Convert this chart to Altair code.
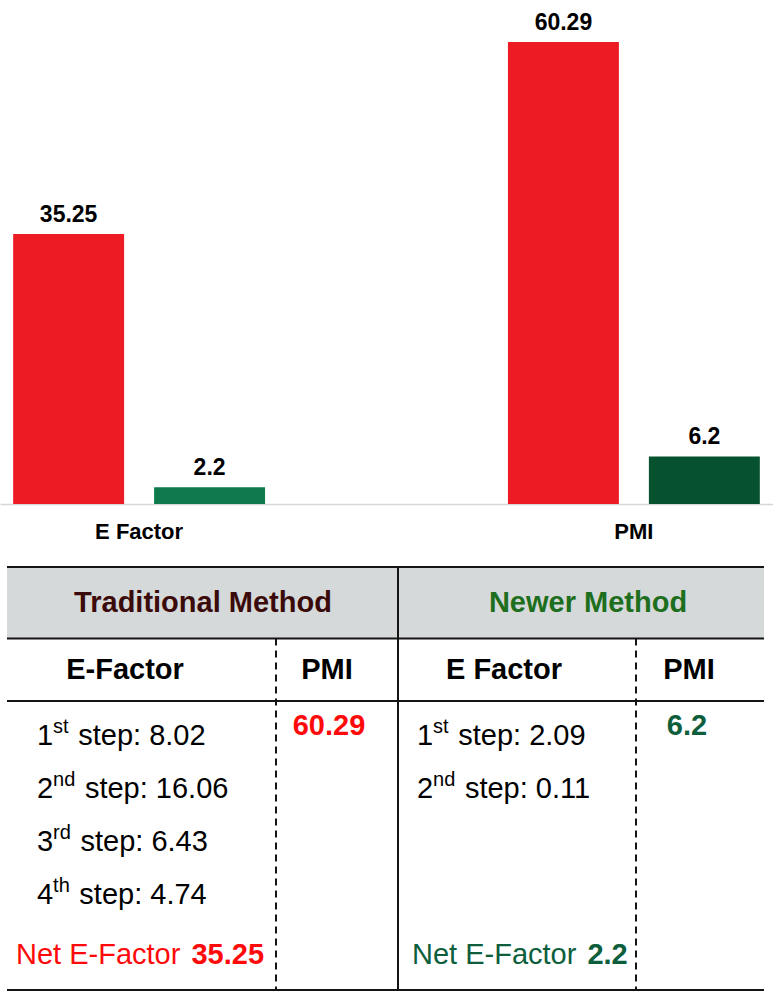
import altair as alt
import pandas as pd

FONT = "Liberation Sans"

# ---------------- data ----------------
categories = ["E Factor", "PMI"]
methods = ["Traditional Method", "Newer Method"]
traditional_values = [35.25, 60.29]   # E Factor, PMI
newer_values = [2.2, 6.2]             # E Factor, PMI

step_numbers = ["1", "2", "3", "4"]
step_suffixes = ["st", "nd", "rd", "th"]
traditional_steps = [8.02, 16.06, 6.43, 4.74]
newer_steps = [2.09, 0.11]

sub_headers_traditional = ["E-Factor", "PMI"]
sub_headers_newer = ["E Factor", "PMI"]
net_label = "Net E-Factor"

# ---------------- styles ----------------
RED_BAR = "#ed1c24"
GREEN_BAR_1 = "#0f7a4b"
GREEN_BAR_2 = "#06522f"
RED_TEXT = "#fe0a0a"
GREEN_TEXT = "#0d5e3c"
HEAD_TRAD = "#3b0b0b"
HEAD_NEW = "#1d6e1d"
HEADER_FILL = "#d5d9d9"
LINE = "#141414"

# Arial / Liberation Sans advance widths (em)
REG = {"0": .556, "1": .556, "2": .556, "3": .556, "4": .556, "5": .556, "6": .556,
       "7": .556, "8": .556, "9": .556, ".": .278, ":": .278, " ": .278, "s": .5,
       "t": .278, "e": .556, "p": .556, "N": .722, "E": .667, "-": .333, "F": .611,
       "a": .556, "c": .5, "o": .556, "r": .333, "n": .556, "d": .556, "h": .556}


def text_width(s, size):
    return sum(REG.get(ch, .556) for ch in s) * size


# ---------------- bar chart ----------------
bars_df = pd.DataFrame({
    "category": categories + categories,
    "method": [methods[0]] * len(categories) + [methods[1]] * len(categories),
    "value": traditional_values + newer_values,
})
bars_df["key"] = bars_df["method"] + " / " + bars_df["category"]
bars_df["label"] = bars_df["value"].map(lambda v: f"{v:g}")
key_domain = list(bars_df["key"])
key_range = [RED_BAR, RED_BAR, GREEN_BAR_1, GREEN_BAR_2]

base = alt.Chart(bars_df).encode(
    x=alt.X("category:N", sort=categories, title=None,
            scale=alt.Scale(paddingInner=0.4909, paddingOuter=0.0266),
            axis=alt.Axis(labelAngle=0, ticks=False, tickSize=0, labelPadding=17,
                          labelFont=FONT, labelFontSize=22, labelFontWeight="bold",
                          labelColor="black", domainColor="#d6d6d6", domainWidth=1.5,
                          grid=False)),
    xOffset=alt.XOffset("method:N", sort=methods,
                        scale=alt.Scale(paddingInner=0.2128, paddingOuter=0)),
    y=alt.Y("value:Q", scale=alt.Scale(domain=[0, 65.77], nice=False), axis=None),
)
bars = base.mark_bar().encode(
    color=alt.Color("key:N", scale=alt.Scale(domain=key_domain, range=key_range), legend=None)
)
bar_labels = base.mark_text(dy=-12, baseline="alphabetic", font=FONT, fontSize=23,
                            fontWeight="bold", color="black").encode(text="label:N")
top = alt.layer(bars, bar_labels).properties(width=773, height=504)

# ---------------- table ----------------
TX0, TX1 = 7, 764
Y_TOP, Y_HEAD, Y_SUB, Y_BOT = 567, 638.5, 701, 990
X_MID = 398
X_DASH = [276, 636]

XS = alt.Scale(domain=[0, 773], nice=False, zero=False)
YS = alt.Scale(domain=[565, 997], reverse=True, nice=False, zero=False)


def X(f="x"):
    return alt.X(f"{f}:Q", scale=XS, axis=None)


def Y(f="y"):
    return alt.Y(f"{f}:Q", scale=YS, axis=None)


rect_df = pd.DataFrame({"x": [TX0], "x2": [TX1], "y": [Y_TOP - 1], "y2": [Y_HEAD]})
header_rect = alt.Chart(rect_df).mark_rect(color=HEADER_FILL).encode(
    x=X(), x2="x2:Q", y=Y(), y2="y2:Q")

solid_df = pd.DataFrame({
    "x": [TX0, TX0, TX0, TX0, X_MID],
    "x2": [TX1, TX1, TX1, TX1, X_MID],
    "y": [Y_TOP, Y_HEAD, Y_SUB, Y_BOT, Y_TOP - 1],
    "y2": [Y_TOP, Y_HEAD, Y_SUB, Y_BOT, Y_BOT],
})
solid_lines = alt.Chart(solid_df).mark_rule(color=LINE, strokeWidth=2).encode(
    x=X(), x2="x2:Q", y=Y(), y2="y2:Q")

dash_df = pd.DataFrame({"x": X_DASH, "y": [Y_HEAD] * 2, "y2": [Y_BOT] * 2})
dash_lines = alt.Chart(dash_df).mark_rule(color=LINE, strokeWidth=2, strokeDash=[7, 5]).encode(
    x=X(), y=Y(), y2="y2:Q")

FS = 29
SUP = 20


def text_layer(df, size, weight="normal", align="left"):
    return alt.Chart(df).mark_text(font=FONT, fontSize=size, fontWeight=weight, align=align,
                                   baseline="alphabetic").encode(
        x=X(), y=Y(), text="text:N", color=alt.Color("color:N", scale=None))


# header row
head_df = pd.DataFrame({"text": methods, "x": [203, 588], "y": [612, 612],
                        "color": [HEAD_TRAD, HEAD_NEW]})
# sub header row
sub_df = pd.DataFrame({"text": sub_headers_traditional + sub_headers_newer,
                       "x": [125, 327, 504, 689], "y": [679] * 4, "color": ["black"] * 4})
# PMI values
pmi_df = pd.DataFrame({"text": [f"{traditional_values[1]:g}", f"{newer_values[1]:g}"],
                       "x": [329, 687], "y": [735, 735], "color": [RED_TEXT, GREEN_TEXT]})

num_rows, suf_rows, rest_rows = [], [], []
for x0, values in [(37, traditional_steps), (417, newer_steps)]:
    for i, v in enumerate(values):
        yb = 745 + i * 53
        num = step_numbers[i]
        suf = step_suffixes[i]
        xs = x0 + text_width(num, FS)
        xr = xs + text_width(suf, SUP) + 0.33 * FS
        num_rows.append({"text": num, "x": x0, "y": yb, "color": "black"})
        suf_rows.append({"text": suf, "x": xs, "y": yb - 12, "color": "black"})
        rest_rows.append({"text": f"step: {v:.2f}", "x": xr, "y": yb, "color": "black"})

net_rows, netv_rows = [], []
for x0, v, col in [(16, traditional_values[0], RED_TEXT), (412, newer_values[0], GREEN_TEXT)]:
    net_rows.append({"text": net_label, "x": x0, "y": 964, "color": col})
    netv_rows.append({"text": f"{v:g}", "x": x0 + text_width(net_label + " ", FS) + 3,
                      "y": 964, "color": col})

table = alt.layer(
    header_rect, solid_lines, dash_lines,
    text_layer(head_df, FS, "bold", "center"),
    text_layer(sub_df, FS, "bold", "center"),
    text_layer(pmi_df, FS, "bold", "center"),
    text_layer(pd.DataFrame(num_rows), FS),
    text_layer(pd.DataFrame(suf_rows), SUP),
    text_layer(pd.DataFrame(rest_rows), FS),
    text_layer(pd.DataFrame(net_rows), FS),
    text_layer(pd.DataFrame(netv_rows), FS, "bold"),
).properties(width=773, height=432)

chart = alt.vconcat(top, table, spacing=61, bounds="flush", padding=0).configure_view(stroke=None)

chart.save("out.html", embed_options={"renderer": "svg", "actions": False})
